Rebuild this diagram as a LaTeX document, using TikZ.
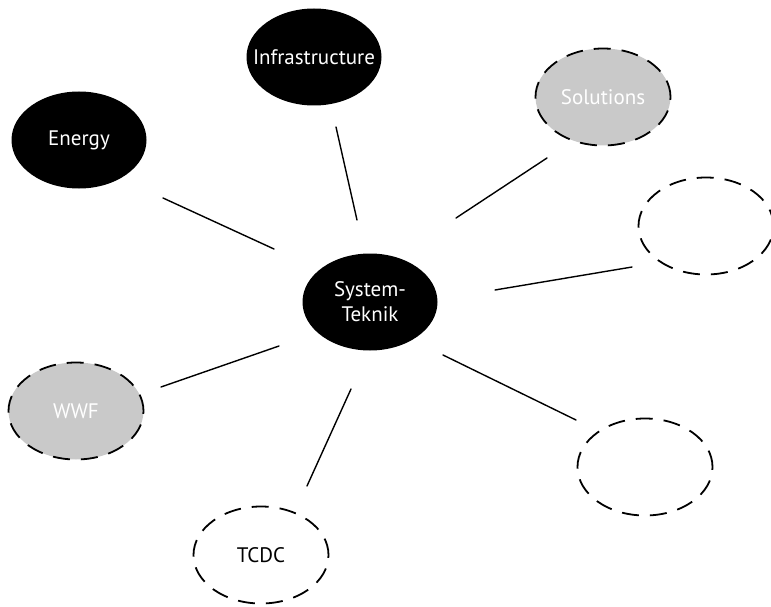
\documentclass[tikz,border=0pt]{standalone}
\usepackage{fontspec}
\setmainfont{PT Sans}
\usetikzlibrary{shapes.geometric,calc}
% zero-width label so long words do not widen the bubble
\newcommand{\flatlabel}[1]{\makebox[0pt]{#1}}
\begin{document}
\begin{tikzpicture}[x=1pt,y=-1pt,
  hub/.style={ellipse,minimum width=135pt,minimum height=97pt,inner sep=0pt},
  solid/.style={hub,fill=black,text=white},
  grey/.style={hub,fill=black!21,text=white,draw=black,line width=1.8pt,dash pattern=on 17pt off 11pt},
  open/.style={hub,draw=black,line width=1.8pt,dash pattern=on 17pt off 11pt},
  link/.style={line width=1.4pt,line cap=round},
  lbl/.style={font=\fontsize{21pt}{25pt}\selectfont}]
\useasboundingbox (0,0) rectangle (771,607);
\begin{scope}
\clip (0,0) rectangle (771,607);
\node[solid,lbl,align=center] (sys) at (370,302) {System-\\Teknik};
\node[solid,lbl] (infra) at (314,57) {\flatlabel{Infrastructure}};
\node[solid,lbl] (energy) at (79,140) {\flatlabel{Energy}};
\node[grey,lbl] (sol) at (603,97) {\flatlabel{Solutions}};
\node[open] (tr) at (706,226) {};
\node[grey,lbl] (wwf) at (76,411) {\flatlabel{WWF}};
\node[open,lbl] (tcdc) at (261,555) {\flatlabel{TCDC}};
\node[open] (br) at (645,467) {};
\end{scope}
% spokes from the hub towards each surrounding bubble
\draw[link] ($(sys.center)+(-13,-82)$) -- ($(infra.center)+(22,70)$);
\draw[link] ($(sys.center)+(-96,-53)$) -- ($(energy.center)+(84,58)$);
\draw[link] ($(sys.center)+(86,-84)$) -- ($(sol.center)+(-56,61)$);
\draw[link] ($(sys.center)+(125,-12)$) -- ($(tr.center)+(-74,41)$);
\draw[link] ($(sys.center)+(-91,44)$) -- ($(wwf.center)+(85,-24)$);
\draw[link] ($(sys.center)+(-19,87)$) -- ($(tcdc.center)+(46,-69)$);
\draw[link] ($(sys.center)+(73,53)$) -- ($(br.center)+(-69,-47)$);
\end{tikzpicture}
\end{document}
